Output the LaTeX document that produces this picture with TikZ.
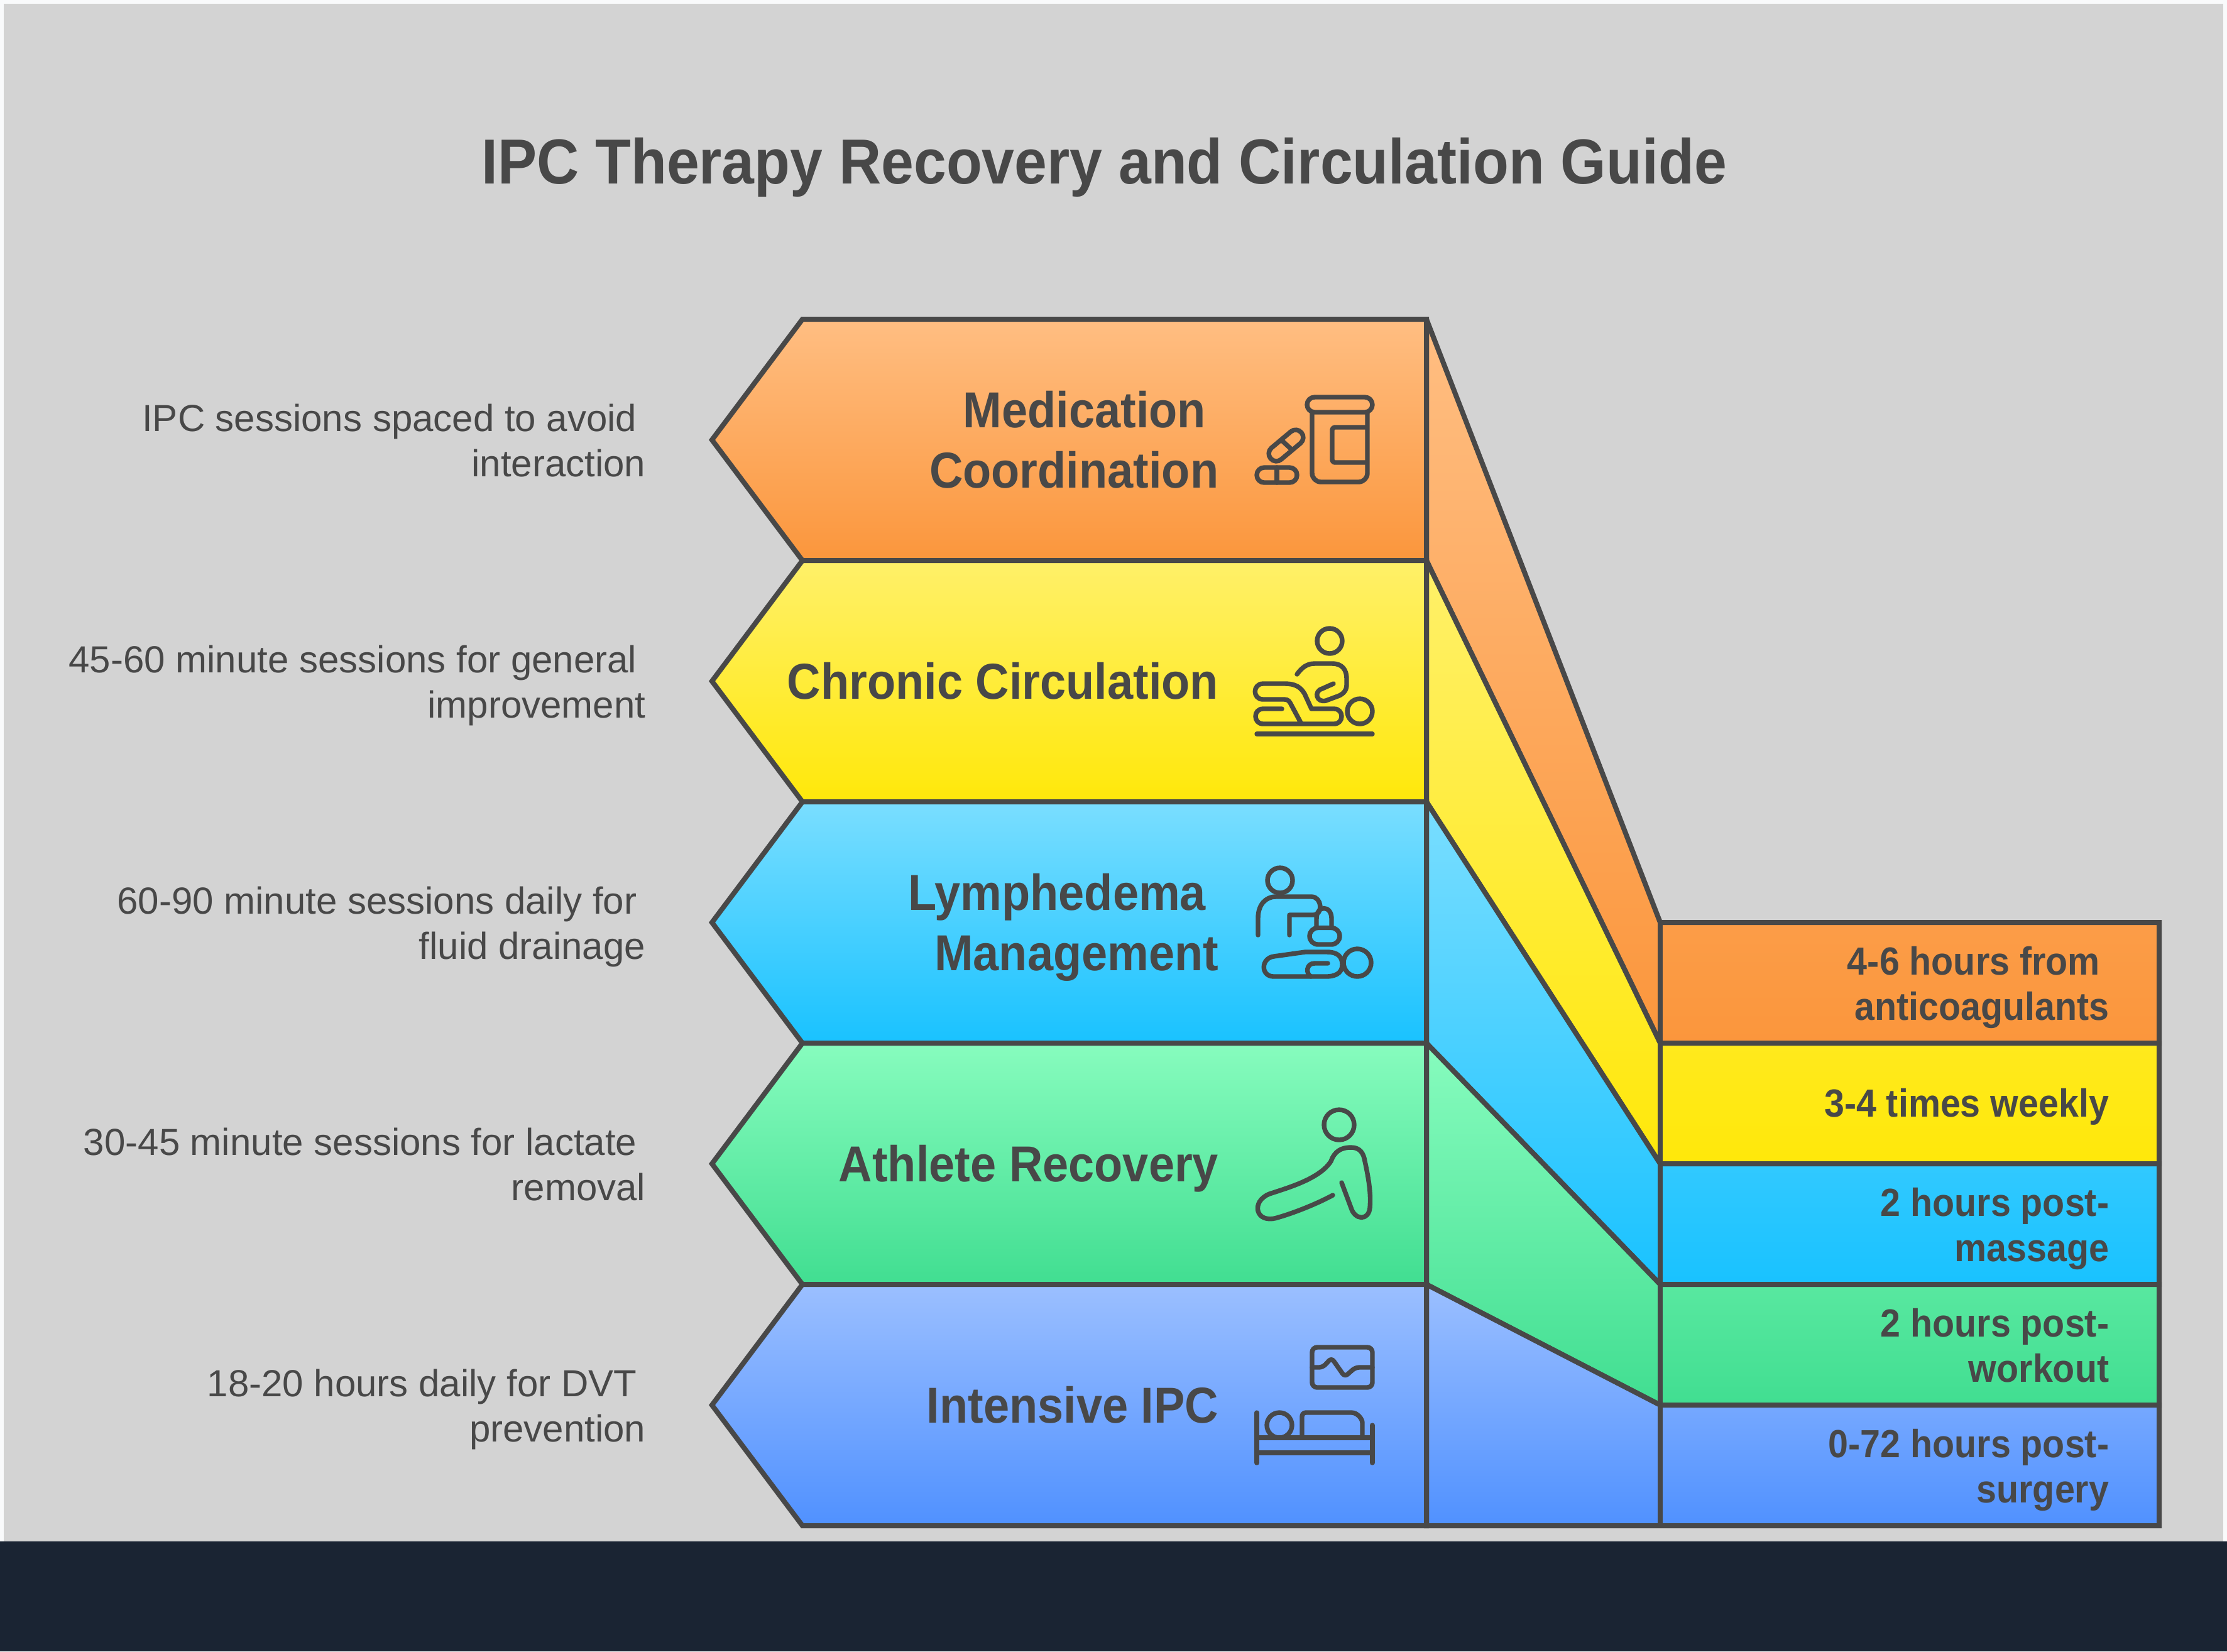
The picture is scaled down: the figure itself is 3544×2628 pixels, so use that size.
\documentclass[tikz,border=0pt]{standalone}
\usepackage{fontspec}
\setmainfont{Liberation Sans}[BoldFeatures={FakeStretch=0.92}]
\usepackage{xcolor}
\usetikzlibrary{positioning}

\definecolor{ink}{RGB}{72,72,72}
\definecolor{paper}{RGB}{211,211,211}
\definecolor{rim}{RGB}{249,250,251}
\definecolor{footer}{RGB}{26,36,51}
\definecolor{orangeA}{RGB}{255,190,130}
\definecolor{orangeB}{RGB}{251,150,60}
\definecolor{yellowA}{RGB}{255,240,105}
\definecolor{yellowB}{RGB}{255,232,10}
\definecolor{cyanA}{RGB}{122,222,255}
\definecolor{cyanB}{RGB}{25,194,255}
\definecolor{greenA}{RGB}{135,252,190}
\definecolor{greenB}{RGB}{65,222,145}
\definecolor{indigoA}{RGB}{155,191,255}
\definecolor{indigoB}{RGB}{80,145,255}

\begin{document}
\begin{tikzpicture}[x=0.25pt,y=-0.25pt]

		% Estilos
		\tikzstyle{band} = [draw=ink, line width=2pt, line join=miter, miter limit=2]
		\tikzstyle{glyph} = [draw=ink, line width=1.85pt, line cap=round, line join=round]
		\tikzstyle{heading} = [text=ink, font=\fontsize{25.3}{30}\selectfont\bfseries, inner sep=0pt]
		\tikzstyle{label} = [text=ink, font=\fontsize{20.1}{24}\selectfont\bfseries, align=right, inner sep=0pt, yshift=-3.4pt, execute at begin node=\strut, execute at end node=\strut]
		\tikzstyle{note} = [text=ink, font=\fontsize{15}{18}\selectfont, align=right, inner sep=0pt, yshift=-2.8pt, execute at begin node=\strut, execute at end node=\strut]
		\tikzstyle{dose} = [text=ink, font=\fontsize{15.6}{18}\selectfont\bfseries, align=right, inner sep=0pt, yshift=-2.8pt, execute at begin node=\strut, execute at end node=\strut]

		% Fundo
		\fill[rim] (0,0) rectangle (3544,2628);
		\fill[paper] (6,6) rectangle (3538,2453);
		\fill[footer] (0,2453) rectangle (3544,2628);
		\useasboundingbox (0,0) rectangle (3544,2628);

		% Pontos de apoio
		\coordinate (tipM) at (1133,700);
		\coordinate (tipC) at (1133,1084);
		\coordinate (tipL) at (1133,1468);
		\coordinate (tipA) at (1133,1852);
		\coordinate (tipI) at (1133,2236);
		\coordinate (edgeM) at (2270,700);
		\coordinate (edgeC) at (2270,1084);
		\coordinate (edgeL) at (2270,1468);
		\coordinate (edgeA) at (2270,1852);
		\coordinate (edgeI) at (2270,2236);
		\coordinate (endM) at (3436,1564);
		\coordinate (endC) at (3436,1756);
		\coordinate (endL) at (3436,1948);
		\coordinate (endA) at (3436,2140);
		\coordinate (endI) at (3436,2332);

		% Faixas laterais
		\draw[band, top color=orangeA, bottom color=orangeB] (2270,508) -- (2642,1468) -- (3436,1468) -- (3436,1660) -- (2642,1660) -- (2270,892) -- cycle;
		\draw[band, top color=yellowA, bottom color=yellowB] (2270,892) -- (2642,1660) -- (3436,1660) -- (3436,1852) -- (2642,1852) -- (2270,1276) -- cycle;
		\draw[band, top color=cyanA, bottom color=cyanB] (2270,1276) -- (2642,1852) -- (3436,1852) -- (3436,2044) -- (2642,2044) -- (2270,1660) -- cycle;
		\draw[band, top color=greenA, bottom color=greenB] (2270,1660) -- (2642,2044) -- (3436,2044) -- (3436,2236) -- (2642,2236) -- (2270,2044) -- cycle;
		\draw[band, top color=indigoA, bottom color=indigoB] (2270,2044) -- (2642,2236) -- (3436,2236) -- (3436,2428) -- (2270,2428) -- cycle;
		\draw[band] (2642,1468) -- (2642,2428);

		% Setas da esquerda
		\draw[band, top color=orangeA, bottom color=orangeB] (tipM) -- (1277,508) -- (2270,508) -- (2270,892) -- (1277,892) -- cycle;
		\draw[band, top color=yellowA, bottom color=yellowB] (tipC) -- (1277,892) -- (2270,892) -- (2270,1276) -- (1277,1276) -- cycle;
		\draw[band, top color=cyanA, bottom color=cyanB] (tipL) -- (1277,1276) -- (2270,1276) -- (2270,1660) -- (1277,1660) -- cycle;
		\draw[band, top color=greenA, bottom color=greenB] (tipA) -- (1277,1660) -- (2270,1660) -- (2270,2044) -- (1277,2044) -- cycle;
		\draw[band, top color=indigoA, bottom color=indigoB] (tipI) -- (1277,2044) -- (2270,2044) -- (2270,2428) -- (1277,2428) -- cycle;

		% Titulo
		\node (title) [heading] at (1757,266) {IPC Therapy Recovery and Circulation Guide};

		% Rotulos
		\node (med) [label, left=82.5pt of edgeM] {Medication\hspace*{0.25em}\\Coordination};
		\node (chr) [label, yshift=1.2pt, left=82.5pt of edgeC] {Chronic Circulation};
		\node (lym) [label, left=82.5pt of edgeL] {Lymphedema\hspace*{0.25em}\\Management};
		\node (ath) [label, yshift=1.2pt, left=82.5pt of edgeA] {Athlete Recovery};
		\node (int) [label, yshift=1.2pt, left=82.5pt of edgeI] {Intensive IPC};

		% Notas
		\node (medNote) [note, left=26.25pt of tipM] {IPC sessions spaced to avoid\hspace*{0.23em}\\interaction};
		\node (chrNote) [note, left=26.25pt of tipC] {45-60 minute sessions for general\hspace*{0.23em}\\improvement};
		\node (lymNote) [note, left=26.25pt of tipL] {60-90 minute sessions daily for\hspace*{0.23em}\\fluid drainage};
		\node (athNote) [note, left=26.25pt of tipA] {30-45 minute sessions for lactate\hspace*{0.23em}\\removal};
		\node (intNote) [note, left=26.25pt of tipI] {18-20 hours daily for DVT\hspace*{0.23em}\\prevention};

		% Tempos
		\node (medDose) [dose, left=19.75pt of endM] {4-6 hours from\hspace*{0.23em}\\anticoagulants};
		\node (chrDose) [dose, yshift=1.1pt, left=19.75pt of endC] {3-4 times weekly};
		\node (lymDose) [dose, left=19.75pt of endL] {2 hours post-\\massage};
		\node (athDose) [dose, left=19.75pt of endA] {2 hours post-\\workout};
		\node (intDose) [dose, left=19.75pt of endI] {0-72 hours post-\\surgery};

		% Icone: remedios
		\draw[glyph, rounded corners=3pt] (2080,632) rectangle (2184,656);
		\draw[glyph, rounded corners=3.5pt] (2088,656) -- (2088,767) -- (2176,767) -- (2176,656);
		\draw[glyph, line cap=butt, rounded corners=1pt] (2176,680) -- (2120,680) -- (2120,736) -- (2176,736);
		\draw[glyph, rounded corners=2.95pt] (2000,744) rectangle (2064,768);
		\draw[glyph] (2032,744) -- (2032,768);
		\draw[glyph, rounded corners=2.95pt, rotate around={40:(2046.5,709)}] (2014.5,697) rectangle (2078.5,721);
		\draw[glyph] (2040,701) -- (2054,714);

		% Icone: massagem
		\draw[glyph] (2116,1020) circle (20);
		\draw[glyph] (2164,1132) circle (20);
		\draw[glyph] (2000,1168) -- (2184,1168);
		\draw[glyph] (2070,1150) -- (2055,1122) .. controls (2052,1116) and (2050,1113) .. (2044,1113) -- (2010,1113) .. controls (1993,1113) and (1993,1088) .. (2010,1088) -- (2045,1088) .. controls (2062,1088) and (2070,1094) .. (2076,1104) -- (2087,1128) -- (2123,1128) .. controls (2139,1128) and (2139,1152) .. (2123,1152) -- (2010,1152) .. controls (1994,1152) and (1994,1128) .. (2010,1128) -- (2040,1128);
		\draw[glyph] (2064,1073) .. controls (2072,1062) and (2080,1056) .. (2092,1056) -- (2120,1056) .. controls (2136,1056) and (2143,1066) .. (2143,1080) -- (2143,1090) .. controls (2143,1100) and (2136,1106) .. (2126,1109) -- (2110,1115) .. controls (2095,1119) and (2090,1100) .. (2104,1096) -- (2122,1088);

		% Icone: drenagem
		\draw[glyph] (2037,1401) circle (20);
		\draw[glyph] (2160,1532) circle (22);
		\draw[glyph] (2002,1488) -- (2002,1461) .. controls (2002,1440) and (2014,1427) .. (2030,1427) -- (2087,1427) .. controls (2104,1427) and (2106,1456) .. (2090,1456) -- (2052,1456) -- (2052,1488);
		\draw[glyph] (2095,1476) -- (2095,1462) .. controls (2095,1440) and (2119,1440) .. (2119,1462) -- (2119,1476);
		\draw[glyph, rounded corners=3.3pt] (2084,1476.5) rectangle (2132,1503);
		\draw[glyph] (2027,1554) -- (2110,1554) .. controls (2130,1554) and (2136,1545) .. (2136,1535) .. controls (2136,1522) and (2128,1515) .. (2112,1515) -- (2077,1515) -- (2027,1522) .. controls (2006,1525) and (2006,1554) .. (2027,1554);
		\draw[glyph] (2113,1533) -- (2092,1533) .. controls (2078,1533) and (2078,1550) .. (2086,1554);

		% Icone: atleta
		\draw[glyph] (2131,1790) circle (24);
		\draw[glyph] (2121,1902) .. controls (2095,1916) and (2060,1930) .. (2032,1938) .. controls (1998,1948) and (1990,1912) .. (2020,1900) .. controls (2050,1890) and (2100,1876) .. (2118,1848) .. controls (2124,1832) and (2134,1826) .. (2150,1826) .. controls (2164,1826) and (2170,1835) .. (2172,1848) .. controls (2178,1875) and (2182,1900) .. (2180,1922) .. controls (2178,1943) and (2156,1942) .. (2150,1922) -- (2135,1882);

		% Icone: leito
		\draw[glyph, rounded corners=2pt] (2088,2144) rectangle (2184,2208);
		\draw[glyph, rounded corners=1.5pt] (2088,2176) -- (2105,2176) -- (2119,2161) -- (2140,2191) -- (2157,2176) -- (2184,2176);
		\draw[glyph] (2000,2248) -- (2000,2328);
		\draw[glyph] (2184,2268) -- (2184,2328);
		\draw[glyph] (2000,2288) -- (2184,2288);
		\draw[glyph] (2000,2312) -- (2184,2312);
		\draw[glyph] (2036,2268) circle (20);
		\draw[glyph, rounded corners=1.5pt] (2072,2288) -- (2072,2248) -- (2145,2248) .. controls (2160,2248) and (2168,2258) .. (2168,2270) -- (2168,2288);

	\end{tikzpicture}
\end{document}
